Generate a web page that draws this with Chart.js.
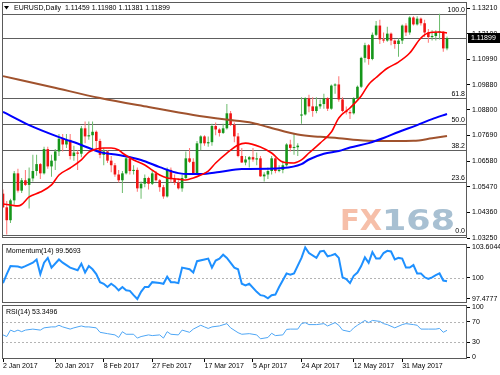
<!DOCTYPE html>
<html>
<head>
<meta charset="utf-8">
<script src="https://cdn.jsdelivr.net/npm/chart.js@4.4.1/dist/chart.umd.min.js"></script>
<style>
  body { margin: 0; background: #fff; }
  #wrap { position: relative; width: 500px; height: 375px; overflow: hidden; }
  canvas { position: absolute; left: 0; }
</style>
</head>
<body>
<div id="wrap">
  <canvas id="main" width="500" height="244" style="top:0"></canvas>
  <canvas id="mom" width="500" height="66" style="top:240px"></canvas>
  <canvas id="rsi" width="500" height="77" style="top:298px"></canvas>
</div>
<script>
(() => {
    'use strict'

    // daily bars, 2 Jan 2017 .. 16 Jun 2017
    const opens = [
        1.0517, 1.0458, 1.0402, 1.0488, 1.0605, 1.0530, 1.0575, 1.0555, 1.0583, 1.0615,
        1.0645, 1.0605, 1.0710, 1.0635, 1.0660, 1.0700, 1.0755, 1.0730, 1.0750, 1.0680,
        1.0695, 1.0690, 1.0800, 1.0765, 1.0770, 1.0785, 1.0745, 1.0685, 1.0700, 1.0660,
        1.0640, 1.0600, 1.0575, 1.0605, 1.0670, 1.0615, 1.0620, 1.0540, 1.0560, 1.0585,
        1.0560, 1.0605, 1.0575, 1.0545, 1.0505, 1.0620, 1.0580, 1.0565, 1.0540, 1.0585,
        1.0670, 1.0655, 1.0605, 1.0735, 1.0765, 1.0735, 1.0740, 1.0810, 1.0795, 1.0780,
        1.0800, 1.0865, 1.0815, 1.0765, 1.0680, 1.0652, 1.0665, 1.0675, 1.0665, 1.0670,
        1.0592, 1.0600, 1.0615, 1.0670, 1.0615, 1.0620, 1.0640, 1.0730, 1.0715, 1.0718,
        1.0855, 1.0860, 1.0930, 1.0895, 1.0875, 1.0895, 1.0905, 1.0930, 1.0885, 1.0985,
        1.0990, 1.0925, 1.0875, 1.0870, 1.0865, 1.0930, 1.0980, 1.1105, 1.1160, 1.1100,
        1.1205, 1.1245, 1.1185, 1.1180, 1.1210, 1.1180, 1.1165, 1.1180, 1.1245, 1.1215,
        1.1280, 1.1250, 1.1275, 1.1255, 1.1215, 1.1195, 1.1200, 1.1215, 1.1218, 1.11459
    ]
    const highs = [
        1.0535, 1.0485, 1.0495, 1.0615, 1.0625, 1.0585, 1.0620, 1.0630, 1.0685, 1.0685,
        1.0650, 1.0720, 1.0720, 1.0685, 1.0710, 1.0775, 1.0775, 1.0775, 1.0775, 1.0725,
        1.0705, 1.0810, 1.0830, 1.0830, 1.0830, 1.0790, 1.0755, 1.0715, 1.0705, 1.0680,
        1.0650, 1.0620, 1.0615, 1.0680, 1.0680, 1.0640, 1.0630, 1.0570, 1.0600, 1.0590,
        1.0620, 1.0615, 1.0580, 1.0555, 1.0630, 1.0630, 1.0600, 1.0575, 1.0600, 1.0700,
        1.0715, 1.0670, 1.0745, 1.0770, 1.0770, 1.0765, 1.0820, 1.0825, 1.0800, 1.0820,
        1.0905, 1.0875, 1.0825, 1.0780, 1.0715, 1.0680, 1.0680, 1.0715, 1.0695, 1.0680,
        1.0610, 1.0630, 1.0680, 1.0680, 1.0640, 1.0660, 1.0735, 1.0750, 1.0775, 1.0735,
        1.0935, 1.0935, 1.0945, 1.0935, 1.0935, 1.0925, 1.0950, 1.0935, 1.0990, 1.0995,
        1.1025, 1.0935, 1.0895, 1.0880, 1.0935, 1.0985, 1.1110, 1.1170, 1.1165, 1.1215,
        1.1265, 1.1270, 1.1215, 1.1240, 1.1215, 1.1185, 1.1190, 1.1250, 1.1255, 1.1285,
        1.1285, 1.1285, 1.1280, 1.1270, 1.1230, 1.1225, 1.1225, 1.1296, 1.1220, 1.11980
    ]
    const lows = [
        1.0455, 1.0340, 1.0390, 1.0470, 1.0522, 1.0520, 1.0550, 1.0453, 1.0570, 1.0595,
        1.0580, 1.0600, 1.0625, 1.0590, 1.0620, 1.0680, 1.0700, 1.0715, 1.0665, 1.0660,
        1.0620, 1.0675, 1.0735, 1.0750, 1.0710, 1.0705, 1.0670, 1.0640, 1.0650, 1.0610,
        1.0590, 1.0565, 1.0520, 1.0600, 1.0600, 1.0600, 1.0525, 1.0495, 1.0545, 1.0535,
        1.0555, 1.0570, 1.0525, 1.0495, 1.0500, 1.0565, 1.0555, 1.0535, 1.0525, 1.0580,
        1.0650, 1.0600, 1.0600, 1.0705, 1.0725, 1.0720, 1.0725, 1.0770, 1.0765, 1.0775,
        1.0795, 1.0810, 1.0740, 1.0675, 1.0650, 1.0640, 1.0630, 1.0655, 1.0640, 1.0590,
        1.0570, 1.0580, 1.0600, 1.0605, 1.0610, 1.0605, 1.0635, 1.0700, 1.0685, 1.0680,
        1.0820, 1.0855, 1.0870, 1.0850, 1.0865, 1.0885, 1.0885, 1.0875, 1.0880, 1.0950,
        1.0915, 1.0870, 1.0860, 1.0840, 1.0860, 1.0925, 1.0975, 1.1085, 1.1075, 1.1095,
        1.1200, 1.1165, 1.1170, 1.1175, 1.1160, 1.1145, 1.1110, 1.1165, 1.1200, 1.1205,
        1.1245, 1.1245, 1.1245, 1.1195, 1.1170, 1.1180, 1.1180, 1.1185, 1.1132, 1.11381
    ]
    const closes = [
        1.0458, 1.0402, 1.0488, 1.0605, 1.0530, 1.0575, 1.0555, 1.0583, 1.0615, 1.0645,
        1.0605, 1.0710, 1.0635, 1.0660, 1.0700, 1.0755, 1.0730, 1.0750, 1.0680, 1.0695,
        1.0690, 1.0800, 1.0765, 1.0770, 1.0785, 1.0745, 1.0685, 1.0700, 1.0660, 1.0640,
        1.0600, 1.0575, 1.0605, 1.0670, 1.0615, 1.0620, 1.0540, 1.0560, 1.0585, 1.0560,
        1.0605, 1.0575, 1.0545, 1.0505, 1.0620, 1.0580, 1.0565, 1.0540, 1.0585, 1.0670,
        1.0655, 1.0605, 1.0735, 1.0765, 1.0735, 1.0740, 1.0810, 1.0795, 1.0780, 1.0800,
        1.0865, 1.0815, 1.0765, 1.0680, 1.0652, 1.0665, 1.0675, 1.0665, 1.0670, 1.0592,
        1.0600, 1.0615, 1.0670, 1.0615, 1.0620, 1.0640, 1.0730, 1.0715, 1.0718, 1.0725,
        1.0860, 1.0930, 1.0895, 1.0875, 1.0895, 1.0905, 1.0930, 1.0885, 1.0985, 1.0990,
        1.0925, 1.0875, 1.0870, 1.0865, 1.0930, 1.0980, 1.1105, 1.1160, 1.1100, 1.1205,
        1.1245, 1.1185, 1.1180, 1.1210, 1.1180, 1.1165, 1.1180, 1.1245, 1.1215, 1.1280,
        1.1250, 1.1275, 1.1255, 1.1215, 1.1195, 1.1200, 1.1215, 1.1218, 1.1146, 1.11899
    ]

    // moving averages: [bar, price]
    const maRed = [
        [0, 1.0472], [2, 1.0468], [4, 1.0464], [5, 1.0470], [7, 1.0503], [10, 1.0524], [13, 1.0555],
        [15, 1.0598], [18, 1.0628], [21, 1.0663], [23, 1.0697], [25, 1.0710], [27, 1.0715], [29, 1.0715],
        [31, 1.0706], [32, 1.0693], [35, 1.0663], [38, 1.0641], [40, 1.0619], [42, 1.0598], [44, 1.0585],
        [47, 1.0580], [49, 1.0576], [51, 1.0585], [53, 1.0598], [55, 1.0615], [57, 1.0650], [60, 1.0693],
        [63, 1.0728], [65, 1.0736], [69, 1.0719], [72, 1.0693], [75, 1.0654], [78, 1.0650], [80, 1.0663],
        [82, 1.0693], [85, 1.0736], [88, 1.0784], [90, 1.0845], [93, 1.0888], [96, 1.0940], [98, 1.0990],
        [100, 1.1020], [103, 1.1060], [106, 1.1087], [109, 1.1126], [112, 1.1191], [114, 1.1213],
        [117, 1.1217], [119, 1.1213]
    ]
    const maBlue = [
        [0, 1.0871], [7, 1.0814], [15, 1.0762], [21, 1.0728], [26, 1.0697], [31, 1.0684], [37, 1.0663],
        [42, 1.0632], [47, 1.0606], [50, 1.0602], [53, 1.0602], [58, 1.0611], [64, 1.0624], [66, 1.0624],
        [75, 1.0628], [80, 1.0645], [82, 1.0665], [86, 1.0690], [90, 1.0702], [93, 1.0717], [98, 1.0736],
        [102, 1.0758], [106, 1.0784], [111, 1.0814], [115, 1.0840], [119, 1.0862]
    ]
    const maBrown = [
        [0, 1.1026], [13, 1.0979], [26, 1.0931], [39, 1.0892], [51, 1.0858], [62, 1.0834], [66, 1.0826],
        [71, 1.0806], [79, 1.0773], [85, 1.0763], [90, 1.0757], [95, 1.0749], [100, 1.0745], [105, 1.0745],
        [110, 1.0746], [115, 1.0757], [119, 1.0767]
    ]

    const momentum = [
        [0, 99.36], [1, 100.43], [2, 101.38], [4, 101.32], [5, 101.2], [6, 101.38], [8, 101.78], [9, 102.16],
        [10, 100.43], [11, 101.78], [12, 102.35], [13, 101.2], [15, 102.16], [16, 101.78], [18, 101.2],
        [20, 100.89], [21, 101.66], [22, 100.62], [23, 101.38], [24, 101.0], [25, 100.43], [26, 99.47],
        [27, 99.28], [28, 98.9], [29, 99.28], [30, 98.97], [31, 98.5], [32, 98.9], [33, 98.5], [34, 98.44],
        [35, 97.93], [36, 97.48], [37, 98.32], [38, 98.9], [39, 98.9], [40, 99.47], [42, 99.36], [43, 99.28],
        [44, 100.12], [45, 99.47], [46, 99.47], [47, 99.36], [48, 101.2], [50, 101.0], [51, 100.62],
        [52, 101.96], [54, 102.16], [55, 102.27], [56, 101.2], [57, 102.04], [58, 102.27], [59, 102.73],
        [60, 102.35], [62, 101.2], [63, 101.0], [64, 99.28], [65, 99.08], [66, 99.28], [68, 98.32],
        [69, 97.93], [70, 97.85], [71, 97.55], [72, 97.93], [73, 98.0], [74, 98.9], [76, 100.51],
        [77, 100.35], [78, 100.51], [80, 102.35], [81, 103.6], [82, 102.93], [84, 102.35], [85, 103.11],
        [86, 103.19], [87, 102.54], [88, 102.65], [89, 102.81], [90, 102.35], [91, 100.05], [92, 99.85],
        [93, 99.36], [94, 100.23], [95, 100.62], [96, 101.38], [97, 102.42], [98, 101.78], [99, 103.04],
        [100, 102.27], [101, 102.27], [102, 102.93], [103, 103.19], [104, 103.11], [105, 102.16],
        [106, 102.35], [107, 102.27], [108, 101.2], [109, 101.2], [110, 101.5], [111, 100.51], [112, 100.51],
        [113, 100.05], [114, 99.85], [115, 100.05], [116, 100.3], [117, 100.51], [118, 99.66], [119, 99.5693]
    ]
    const rsi = [
        [0, 44.2], [1, 40.9], [2, 53.8], [3, 50.6], [4, 53.8], [5, 50.6], [6, 53.8], [8, 55.8], [10, 53.8],
        [11, 58.3], [13, 60.2], [14, 60.2], [15, 63.5], [16, 60.2], [18, 55.8], [19, 58.3], [21, 62.1],
        [22, 60.2], [23, 60.2], [25, 58.3], [26, 49.4], [28, 46.7], [30, 44.2], [31, 39.0], [32, 50.6],
        [33, 45.5], [35, 45.5], [36, 37.8], [37, 40.9], [39, 44.2], [40, 42.8], [42, 44.2], [43, 37.8],
        [44, 50.6], [45, 45.5], [47, 44.2], [48, 53.8], [50, 49.4], [51, 55.8], [53, 63.5], [54, 60.2],
        [55, 57.1], [56, 60.2], [58, 62.1], [60, 66.7], [61, 58.3], [63, 48.6], [64, 45.5], [66, 46.7],
        [68, 44.2], [69, 36.5], [71, 39.0], [72, 47.5], [73, 42.8], [75, 44.2], [76, 55.2], [77, 55.8],
        [79, 55.8], [80, 66.7], [81, 68.7], [82, 64.8], [84, 64.8], [86, 66.7], [87, 62.1], [89, 68.7],
        [90, 63.5], [91, 53.8], [93, 50.6], [94, 58.3], [95, 63.5], [97, 73.1], [98, 68.7], [99, 73.1],
        [101, 71.2], [102, 66.7], [103, 64.8], [105, 58.3], [107, 64.8], [108, 66.7], [110, 64.8],
        [111, 63.5], [112, 55.8], [114, 55.8], [116, 55.8], [117, 57.1], [118, 49.4], [119, 53.3496]
    ]

    const priceTicks = [1.0325, 1.0436, 1.0547, 1.0658, 1.0769, 1.0880, 1.0988, 1.1099, 1.1210, 1.1321]
    const momTicks = [97.4777, 100, 103.6044]
    const rsiTicks = [0, 30, 70, 100]
    const dateTickIdx = [0, 14, 27, 40, 54, 67, 80, 94, 107]
    const dateTickLabels = ['2 Jan 2017', '20 Jan 2017', '8 Feb 2017', '27 Feb 2017', '17 Mar 2017',
        '5 Apr 2017', '24 Apr 2017', '12 May 2017', '31 May 2017']
    const fibLow = 1.0340
    const fibHigh = 1.1296
    const fibLevels = [0, 23.6, 38.2, 50, 61.8, 100]

    Chart.defaults.font.family = '"Liberation Sans", Arial, sans-serif'
    Chart.defaults.font.size = 7
    Chart.defaults.color = '#000'
    Chart.defaults.animation = false

    const TXT = '7px "Liberation Sans", Arial, sans-serif'
    const X_MIN = -0.27
    const X_MAX = 124.36
    const last = closes.length - 1

    const xAxis = (show) => ({
        type: 'linear',
        min: X_MIN,
        max: X_MAX,
        offset: false,
        display: show,
        afterBuildTicks: s => { s.ticks = dateTickIdx.map(v => ({ value: v })) },
        ticks: {
            callback: v => dateTickLabels[dateTickIdx.indexOf(v)],
            align: 'start',
            padding: 0,
            maxRotation: 0,
            autoSkip: false
        },
        grid: { drawOnChartArea: false, tickLength: 3, color: '#000' },
        border: { display: false },
        afterFit: s => {
            if (!show) return
            s.height = 16
            s.paddingLeft = 0
            s.paddingRight = 0
        }
    })

    const yAxis = (min, max, ticks, fmt) => ({
        position: 'right',
        min: min,
        max: max,
        afterBuildTicks: s => { s.ticks = ticks.map(v => ({ value: v })) },
        ticks: { callback: fmt, padding: 2, autoSkip: false },
        grid: { drawOnChartArea: false, tickLength: 3, color: '#000' },
        border: { display: false },
        afterFit: s => { s.width = 33; s.paddingTop = 0; s.paddingBottom = 0 }
    })

    const hLine = (chart, v, color, dash) => {
        const { ctx, chartArea: a, scales: { y } } = chart
        const py = Math.round(y.getPixelForValue(v)) + 0.5
        ctx.save()
        ctx.strokeStyle = color
        ctx.lineWidth = 1
        ctx.setLineDash(dash || [])
        ctx.beginPath()
        ctx.moveTo(a.left, py)
        ctx.lineTo(a.right, py)
        ctx.stroke()
        ctx.restore()
        return py
    }

    const frame = {
        id: 'frame',
        afterDraw(chart) {
            const { ctx, chartArea: a } = chart
            ctx.save()
            ctx.strokeStyle = '#5a5a5a'
            ctx.lineWidth = 1
            ctx.strokeRect(Math.round(a.left) + 0.5, Math.round(a.top) + 0.5,
                Math.round(a.right - a.left) - 1, Math.round(a.bottom - a.top) - 1)
            ctx.restore()
        }
    }

    const panelLabel = (text, levels) => ({
        id: 'panelLabel',
        beforeDatasetsDraw(chart) {
            levels.forEach(v => hLine(chart, v, '#b4b4b4', [2, 2]))
        },
        afterDraw(chart) {
            const { ctx, chartArea: a } = chart
            ctx.save()
            ctx.font = TXT
            ctx.fillStyle = '#000'
            ctx.textBaseline = 'middle'
            ctx.fillText(text, a.left + 4, a.top + 7)
            ctx.restore()
        }
    })

    const mainDecor = {
        id: 'mainDecor',
        beforeDatasetsDraw(chart) {
            const { ctx, chartArea: a } = chart
            // watermark
            ctx.save()
            ctx.font = 'bold 29px "DejaVu Sans"'
            ctx.fillStyle = '#f6bfa9'
            ctx.fillText('FX', a.right - 127, a.bottom - 8)
            const w = ctx.measureText('168').width
            ctx.translate(a.right - 85, a.bottom - 8)
            ctx.scale(73 / w, 1)
            ctx.fillStyle = '#a8c0d2'
            ctx.fillText('168', 0, 0)
            ctx.restore()
            // fibonacci levels
            ctx.save()
            ctx.font = TXT
            ctx.fillStyle = '#000'
            ctx.textAlign = 'right'
            ctx.textBaseline = 'bottom'
            fibLevels.forEach(l => {
                const py = hLine(chart, fibLow + (fibHigh - fibLow) * l / 100, '#5e5e5e')
                ctx.fillText(l.toFixed(1), a.right - 2, py - 0.5)
            })
            ctx.restore()
            hLine(chart, closes[last], '#5e5e5e')
        },
        afterDraw(chart) {
            const { ctx, chartArea: a, scales: { y } } = chart
            ctx.save()
            const py = y.getPixelForValue(closes[last])
            ctx.fillStyle = '#000'
            ctx.fillRect(a.right + 1, Math.round(py) - 5, 33, 10)
            ctx.font = TXT
            ctx.textBaseline = 'middle'
            ctx.fillStyle = '#fff'
            ctx.fillText(closes[last].toFixed(5), a.right + 4, py)
            // title
            ctx.fillStyle = '#000'
            ctx.beginPath()
            ctx.moveTo(a.left + 2, a.top + 4)
            ctx.lineTo(a.left + 7, a.top + 4)
            ctx.lineTo(a.left + 4.5, a.top + 7.5)
            ctx.closePath()
            ctx.fill()
            const ohlc = [opens, highs, lows, closes].map(s => s[last].toFixed(5)).join(' ')
            ctx.fillText('EURUSD,Daily  ' + ohlc, a.left + 12, a.top + 6)
            ctx.restore()
        }
    }

    const bars = closes.map((c, i) => i)
    const up = i => closes[i] >= opens[i]
    const pts = arr => arr.map(p => ({ x: p[0], y: p[1] }))
    const maLine = (arr, color, width) => ({
        type: 'line',
        data: pts(arr),
        borderColor: color,
        borderWidth: width,
        pointRadius: 0,
        cubicInterpolationMode: 'monotone',
        order: 0
    })

    new Chart(document.getElementById('main'), {
        type: 'bar',
        data: {
            datasets: [
                maLine(maRed, '#ff0000', 1.6),
                maLine(maBlue, '#0000ff', 2),
                maLine(maBrown, '#a0522d', 2),
                {
                    data: bars.map(i => ({ x: i, y: [Math.min(opens[i], closes[i]), Math.max(opens[i], closes[i])] })),
                    backgroundColor: ctx => up(ctx.dataIndex) ? '#15961a' : '#f01414',
                    barThickness: 2.6,
                    minBarLength: 1,
                    grouped: false,
                    inflateAmount: 0,
                    borderWidth: 0,
                    order: 1
                },
                {
                    data: bars.map(i => ({ x: i, y: [lows[i], highs[i]] })),
                    backgroundColor: ctx => up(ctx.dataIndex) ? '#6cbc6c' : '#ff7272',
                    barThickness: 1,
                    grouped: false,
                    inflateAmount: 0,
                    borderWidth: 0,
                    order: 2
                }
            ]
        },
        options: {
            responsive: false,
            events: [],
            layout: { padding: { left: 2, top: 2, right: 0, bottom: 6 } },
            plugins: { legend: { display: false }, tooltip: { enabled: false } },
            scales: {
                x: xAxis(false),
                y: yAxis(1.0325, 1.1347, priceTicks, v => v.toFixed(5))
            }
        },
        plugins: [mainDecor, frame]
    })

    new Chart(document.getElementById('mom'), {
        type: 'line',
        data: {
            datasets: [{
                data: pts(momentum),
                borderColor: '#1e90ff',
                borderWidth: 2,
                pointRadius: 0,
                tension: 0
            }]
        },
        options: {
            responsive: false,
            events: [],
            layout: { padding: { left: 2, top: 4, right: 0, bottom: 3 } },
            plugins: { legend: { display: false }, tooltip: { enabled: false } },
            scales: {
                x: xAxis(false),
                y: yAxis(97.0, 104.0, momTicks, v => String(v))
            }
        },
        plugins: [panelLabel('Momentum(14) 99.5693', [100]), frame]
    })

    new Chart(document.getElementById('rsi'), {
        type: 'line',
        data: {
            datasets: [{
                data: pts(rsi),
                borderColor: '#4ea6f5',
                borderWidth: 1,
                pointRadius: 0,
                tension: 0
            }]
        },
        options: {
            responsive: false,
            events: [],
            layout: { padding: { left: 2, top: 7, right: 0, bottom: 0 } },
            plugins: { legend: { display: false }, tooltip: { enabled: false } },
            scales: {
                x: xAxis(true),
                y: yAxis(-4, 104, rsiTicks, v => String(v))
            }
        },
        plugins: [panelLabel('RSI(14) 53.3496', [70, 30]), frame]
    })
})()
</script>
</body>
</html>
